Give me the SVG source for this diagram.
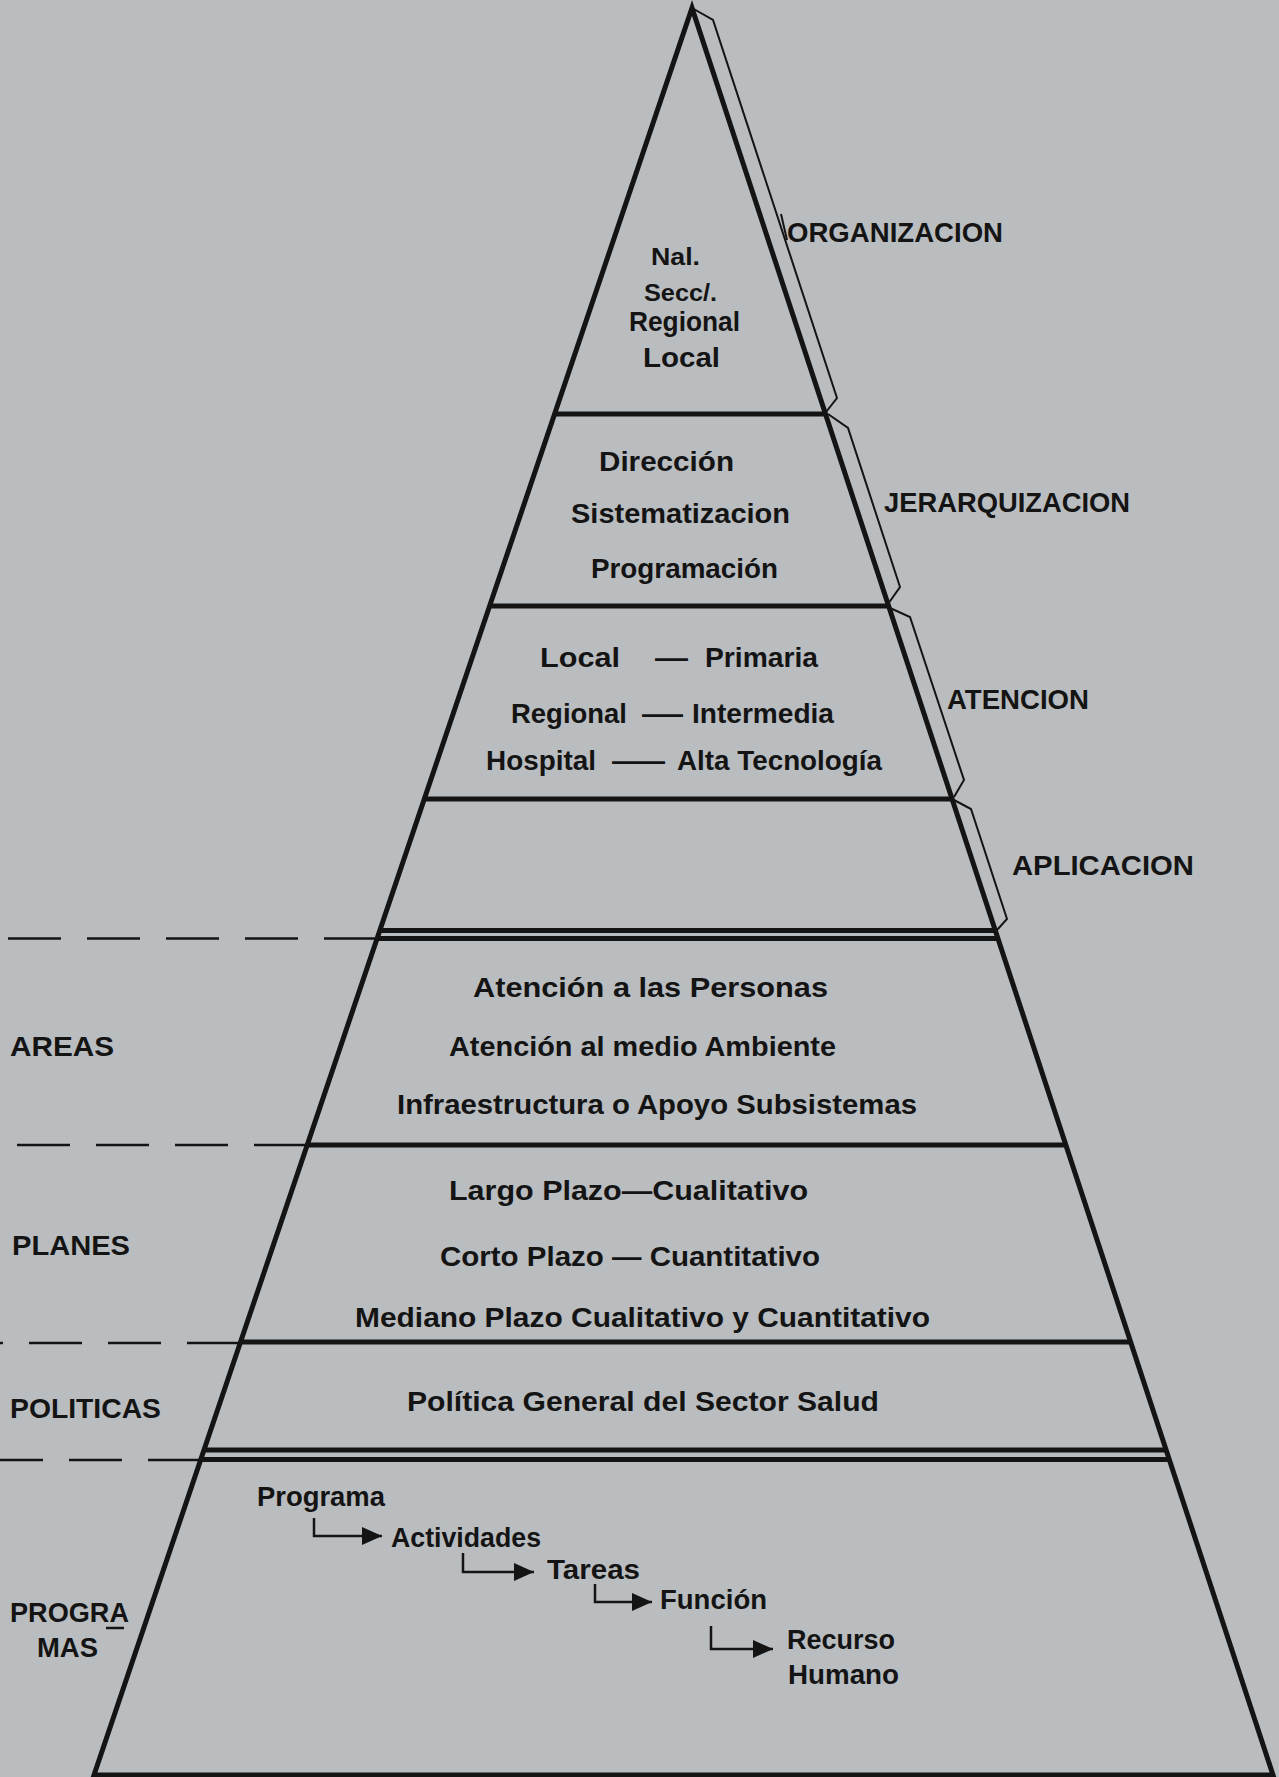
<svg xmlns="http://www.w3.org/2000/svg" width="1279" height="1777" viewBox="0 0 1279 1777">
<style>
.t{font-family:"Liberation Sans","Arial",sans-serif;font-weight:bold;font-size:28px;fill:#141414}
.s{font-size:24px}
.edge{fill:none;stroke:#141414;stroke-width:5;stroke-linejoin:miter}
.band{stroke:#141414;stroke-width:5;fill:none}
.br{fill:none;stroke:#141414;stroke-width:2;stroke-linejoin:miter}
.dash{stroke:#141414;stroke-width:2.5;stroke-dasharray:53 26;fill:none}
.conn{fill:none;stroke:#141414;stroke-width:2.5}
</style>
<defs>
<marker id="ah" markerUnits="userSpaceOnUse" markerWidth="22" markerHeight="20" refX="20" refY="9" orient="auto">
<path d="M0,0 L20,9 L0,18 Z" fill="#141414"/>
</marker>
</defs>
<rect x="0" y="0" width="1279" height="1777" fill="#babdc0"/>

<g id="pyramid">
<path class="edge" d="M94,1775 L692,8 L1273,1775 Z"/>
<line class="band" x1="554" y1="414" x2="826" y2="414"/>
<line class="band" x1="489" y1="606" x2="889" y2="606"/>
<line class="band" x1="424" y1="799" x2="952" y2="799"/>
<line class="band" x1="379" y1="930.5" x2="996" y2="930.5"/>
<line class="band" x1="377" y1="938.5" x2="998" y2="938.5"/>
<line class="band" x1="307" y1="1145" x2="1066" y2="1145"/>
<line class="band" x1="240" y1="1342" x2="1131" y2="1342"/>
<line class="band" x1="204" y1="1450" x2="1166" y2="1450"/>
<line class="band" x1="201" y1="1459.5" x2="1169" y2="1459.5"/>
</g>

<g id="dividers">
<path class="dash" d="M377,938.5 H0"/>
<path class="dash" d="M307,1145 H0"/>
<path class="dash" d="M240,1343 H0"/>
<path class="dash" d="M201,1460 H0"/>
</g>

<g id="brackets">
<path class="br" d="M692,8 L713,20 L837,398 L826,412"/>
<line class="br" x1="781" y1="214" x2="787" y2="240"/>
<path class="br" d="M828,414 L848,428 L900,587 L888,604"/>
<path class="br" d="M890,608 L910,617 L964,780 L954,797"/>
<path class="br" d="M954,800 L971,809 L1007,919 L997,930"/>
</g>

<g id="organizacion">
<text class="t s" x="651" y="265" textLength="49" lengthAdjust="spacingAndGlyphs">Nal.</text>
<text class="t s" x="644" y="301" textLength="73" lengthAdjust="spacingAndGlyphs">Secc/.</text>
<text class="t" x="629" y="331" textLength="111" lengthAdjust="spacingAndGlyphs">Regional</text>
<text class="t" x="643" y="367" textLength="77" lengthAdjust="spacingAndGlyphs">Local</text>
<text class="t" x="787" y="242" textLength="216" lengthAdjust="spacingAndGlyphs">ORGANIZACION</text>
</g>

<g id="jerarquizacion">
<text class="t" x="599" y="471" textLength="135" lengthAdjust="spacingAndGlyphs">Dirección</text>
<text class="t" x="571" y="523" textLength="219" lengthAdjust="spacingAndGlyphs">Sistematizacion</text>
<text class="t" x="591" y="578" textLength="187" lengthAdjust="spacingAndGlyphs">Programación</text>
<text class="t" x="884" y="512" textLength="246" lengthAdjust="spacingAndGlyphs">JERARQUIZACION</text>
</g>

<g id="atencion">
<text class="t" y="667"><tspan x="540" textLength="80" lengthAdjust="spacingAndGlyphs">Local</tspan> <tspan x="655" textLength="33" lengthAdjust="spacingAndGlyphs">—</tspan> <tspan x="705" textLength="113" lengthAdjust="spacingAndGlyphs">Primaria</tspan></text>
<text class="t" y="723"><tspan x="511" textLength="116" lengthAdjust="spacingAndGlyphs">Regional</tspan> <tspan x="642" textLength="41" lengthAdjust="spacingAndGlyphs">—</tspan> <tspan x="692" textLength="142" lengthAdjust="spacingAndGlyphs">Intermedia</tspan></text>
<text class="t" y="770"><tspan x="486" textLength="110" lengthAdjust="spacingAndGlyphs">Hospital</tspan> <tspan x="612" textLength="53" lengthAdjust="spacingAndGlyphs">—</tspan> <tspan x="677" textLength="205" lengthAdjust="spacingAndGlyphs">Alta Tecnología</tspan></text>
<text class="t" x="947" y="709" textLength="142" lengthAdjust="spacingAndGlyphs">ATENCION</text>
</g>

<g id="aplicacion">
<text class="t" x="1012" y="875" textLength="182" lengthAdjust="spacingAndGlyphs">APLICACION</text>
</g>

<g id="areas">
<text class="t" x="10" y="1056" textLength="104" lengthAdjust="spacingAndGlyphs">AREAS</text>
<text class="t" x="473" y="997" textLength="355" lengthAdjust="spacingAndGlyphs">Atención a las Personas</text>
<text class="t" x="449" y="1056" textLength="387" lengthAdjust="spacingAndGlyphs">Atención al medio Ambiente</text>
<text class="t" x="397" y="1114" textLength="520" lengthAdjust="spacingAndGlyphs">Infraestructura o Apoyo Subsistemas</text>
</g>

<g id="planes">
<text class="t" x="12" y="1255" textLength="118" lengthAdjust="spacingAndGlyphs">PLANES</text>
<text class="t" x="449" y="1200" textLength="359" lengthAdjust="spacingAndGlyphs">Largo Plazo—Cualitativo</text>
<text class="t" x="440" y="1266" textLength="380" lengthAdjust="spacingAndGlyphs">Corto Plazo — Cuantitativo</text>
<text class="t" x="355" y="1327" textLength="575" lengthAdjust="spacingAndGlyphs">Mediano Plazo Cualitativo y Cuantitativo</text>
</g>

<g id="politicas">
<text class="t" x="10" y="1418" textLength="151" lengthAdjust="spacingAndGlyphs">POLITICAS</text>
<text class="t" x="407" y="1411" textLength="472" lengthAdjust="spacingAndGlyphs">Política General del Sector Salud</text>
</g>

<g id="programas">
<text class="t" x="10" y="1622" textLength="119" lengthAdjust="spacingAndGlyphs">PROGRA</text>
<line x1="106" y1="1628" x2="124" y2="1628" stroke="#141414" stroke-width="2.5"/>
<text class="t" x="37" y="1657" textLength="61" lengthAdjust="spacingAndGlyphs">MAS</text>
<text class="t" x="257" y="1506" textLength="128" lengthAdjust="spacingAndGlyphs">Programa</text>
<text class="t" x="391" y="1547" textLength="150" lengthAdjust="spacingAndGlyphs">Actividades</text>
<text class="t" x="547" y="1579" textLength="93" lengthAdjust="spacingAndGlyphs">Tareas</text>
<text class="t" x="660" y="1609" textLength="107" lengthAdjust="spacingAndGlyphs">Función</text>
<text class="t" x="787" y="1649" textLength="108" lengthAdjust="spacingAndGlyphs">Recurso</text>
<text class="t" x="788" y="1684" textLength="111" lengthAdjust="spacingAndGlyphs">Humano</text>
</g>

<g id="connectors">
<path class="conn" d="M314,1518 V1536 H382" marker-end="url(#ah)"/>
<path class="conn" d="M463,1553 V1572 H534" marker-end="url(#ah)"/>
<path class="conn" d="M595,1584 V1602 H652" marker-end="url(#ah)"/>
<path class="conn" d="M711,1626 V1649 H773" marker-end="url(#ah)"/>
</g>
</svg>
